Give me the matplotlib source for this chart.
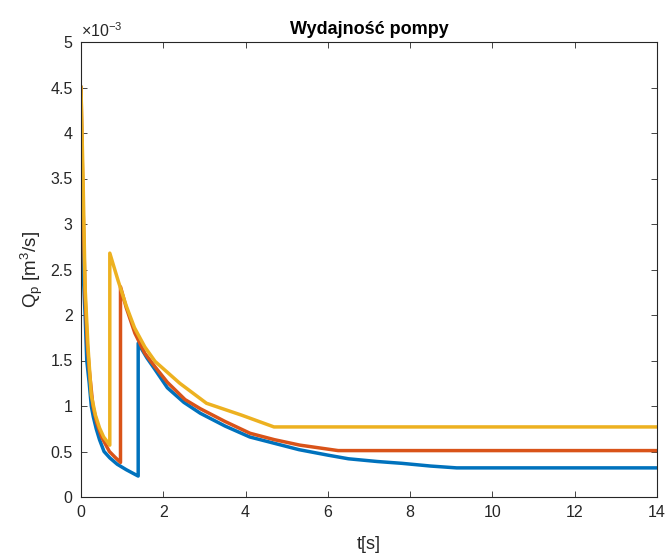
import matplotlib
matplotlib.use('Agg')
import matplotlib.pyplot as plt
from matplotlib.ticker import FuncFormatter

plt.rcParams['font.family'] = ['Liberation Sans', 'DejaVu Sans']
plt.rcParams['mathtext.default'] = 'regular'

# wartosci Q w jednostkach 1e-3 m^3/s
t_blue = [0, 0.03, 0.06, 0.1, 0.14, 0.2, 0.25, 0.3, 0.37, 0.45, 0.56, 0.7, 0.88, 1.1, 1.39,
          1.39, 1.6, 1.8, 2.1, 2.5, 2.9, 3.5, 4.1, 4.7, 5.3, 6.0, 6.5, 7.2, 7.8, 8.5, 9.13, 14]
q_blue = [4.5, 3.0, 2.4, 2.0, 1.5, 1.25, 1.0, 0.88, 0.75, 0.63, 0.5, 0.43, 0.36, 0.3, 0.23,
          1.69, 1.53, 1.40, 1.20, 1.04, 0.92, 0.78, 0.66, 0.59, 0.52, 0.46, 0.42, 0.39, 0.37, 0.34, 0.32, 0.32]

t_red = [0, 0.05, 0.1, 0.15, 0.2, 0.29, 0.38, 0.5, 0.69, 0.82, 0.96,
         0.96, 1.1, 1.31, 1.55, 1.8, 2.1, 2.53, 2.9, 3.5, 4.11, 4.7, 5.32, 6.25, 14]
q_red = [4.5, 3.2, 2.2, 1.7, 1.4, 1.0, 0.82, 0.66, 0.5, 0.44, 0.38,
         2.31, 2.08, 1.80, 1.58, 1.43, 1.26, 1.07, 0.97, 0.83, 0.70, 0.63, 0.57, 0.51, 0.51]

t_yel = [0, 0.05, 0.1, 0.17, 0.25, 0.35, 0.45, 0.55, 0.7,
         0.7, 0.9, 1.1, 1.3, 1.55, 1.8, 2.4, 3.05, 3.9, 4.69, 14]
q_yel = [4.5, 3.5, 2.3, 1.65, 1.12, 0.9, 0.76, 0.66, 0.57,
         2.68, 2.38, 2.1, 1.86, 1.65, 1.49, 1.25, 1.03, 0.9, 0.77, 0.77]

x_ticks = [0, 2, 4, 6, 8, 10, 12, 14]
y_ticks = [0, 0.5, 1, 1.5, 2, 2.5, 3, 3.5, 4, 4.5, 5]

txt = '#262626'

fig = plt.figure(figsize=(6.68, 5.54), dpi=100)
ax = fig.add_axes([81 / 668, 57 / 554, 576 / 668, 455 / 554])

ax.plot(t_blue, q_blue, color='#0072BD', lw=2.5)
ax.plot(t_red, q_red, color='#D95319', lw=2.5)
ax.plot(t_yel, q_yel, color='#EDB120', lw=2.5)

ax.set_xlim(0, 14)
ax.set_ylim(0, 5)
ax.set_xticks(x_ticks)
ax.set_yticks(y_ticks)
ax.yaxis.set_major_formatter(FuncFormatter(lambda v, p: '%g' % v))
ax.tick_params(direction='in', top=True, right=True, length=4, width=0.6,
               colors=txt, labelsize=11.5, pad=6)
for s in ax.spines.values():
    s.set_color(txt)
    s.set_linewidth(0.8)

ax.text(0.0, 1.004, r'$\times10^{-3}$', transform=ax.transAxes, fontsize=11.5,
        color=txt, ha='left', va='bottom')
ax.set_title('Wydajność pompy', fontsize=13, fontweight='bold', color='black', pad=6)
ax.set_xlabel('t[s]', fontsize=13, color=txt, labelpad=11)
ax.set_ylabel('Q$_p$ [m$^3$/s]', fontsize=13.5, color=txt, labelpad=4)

fig.savefig('out.png', dpi=100)
